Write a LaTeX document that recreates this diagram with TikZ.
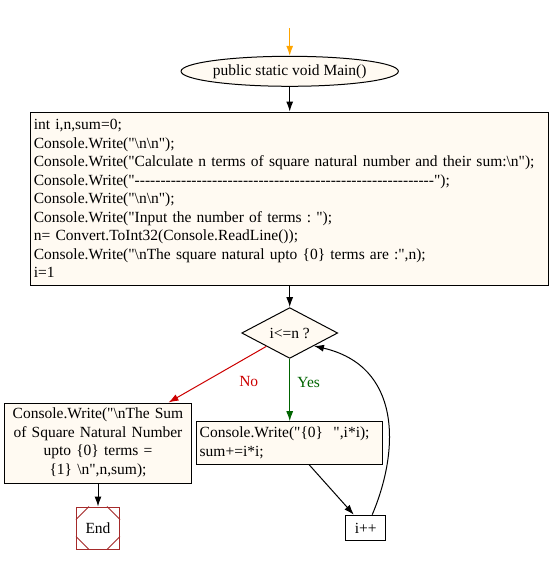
\documentclass[tikz,border=0pt]{standalone}
\usepackage{fontspec}
\setmainfont{Liberation Serif}[Ligatures=TeXOff]
\usetikzlibrary{shapes,arrows.meta}
\definecolor{paper}{RGB}{255,250,242}
\definecolor{noRed}{RGB}{204,0,0}
\definecolor{yesGreen}{RGB}{0,100,0}
\definecolor{startOrange}{RGB}{255,165,0}
\definecolor{endBrown}{RGB}{165,42,42}
\tikzstyle{terminal} = [draw, fill=paper, ellipse, inner sep=0pt,
    minimum width=177pt, minimum height=30pt]
\tikzstyle{block} = [draw, fill=paper, rectangle, inner xsep=3pt, inner ysep=0pt]
\tikzstyle{decision} = [draw, fill=paper, diamond, inner sep=0pt,
    minimum width=96pt, minimum height=47pt]
\tikzstyle{stopbox} = [draw=endBrown, fill=white, rectangle,
    minimum width=43pt, minimum height=42pt]
\tikzstyle{input} = [coordinate]
\newcommand{\bs}{\textbackslash}
\newcommand{\dashrow}[1]{\foreach \k in {1,...,#1}{-\kern0pt}}

\begin{document}
\begin{tikzpicture}[x=1pt, y=1pt, line width=1pt,
    >={Latex[length=10pt,width=7pt]},
    font=\fontsize{15.5pt}{18.5pt}\selectfont\frenchspacing]
  \useasboundingbox (0,0) rectangle (550,-564);
  % header and declarations
  \node [input] at (289.7,-28) (entry) {};
  \node [terminal] at (289.7,-71.3) (main) {public static void Main()};
  \node [block, below of=main, node distance=127.5pt, text width=511.7pt,
      minimum height=173.5pt, align=left] (init) {int i,n,sum=0;\\
    Console.Write("\bs n\bs n");\\
    Console.Write("Calculate n terms of square natural number and their sum:\bs n");\\
    Console.Write("\dashrow{58}");\\
    Console.Write("\bs n\bs n");\\
    Console.Write("Input the number of terms : ");\\
    n= Convert.ToInt32(Console.ReadLine());\\
    Console.Write("\bs nThe square natural upto \{0\} terms are :",n);\\
    i=1};
  % loop test and its two branches
  \node [decision, below of=init, node distance=134.2pt] (cond) {i<=n ?};
  \node [block, below of=cond, node distance=110pt, text width=180pt,
      minimum height=42.6pt, align=left] (body) {Console.Write("\{0\}\ \ ",i*i);\\
    sum+=i*i;};
  \node [block, left of=body, node distance=191.7pt, text width=181.4pt,
      minimum height=80pt, align=center] (result) {Console.Write("\bs nThe Sum\\
    of Square Natural Number\\ upto \{0\} terms =\\ \{1\} \bs n",n,sum);};
  \node [stopbox, below of=result, node distance=85pt] (end) {End};
  \node [block, fill=white, right of=end, node distance=267.7pt,
      minimum width=40.4pt, minimum height=25.6pt] (inc) {i++};
  % cut corners of the end box
  \foreach \c/\dx/\dy in {north west/13/-13, north east/-13/-13,
      south west/13/13, south east/-13/13}
    \draw [endBrown] ([xshift=\dx pt]end.\c) -- ([yshift=\dy pt]end.\c);

  % connectors
  \draw [->, startOrange] (entry) -- (main);
  \draw [->] (main) -- (init);
  \draw [->] (init) -- (cond);
  \draw [->, noRed] (cond) -- node[pos=0.2, xshift=2pt, yshift=-24pt] {No} (result);
  \draw [->, yesGreen] (cond) -- node[pos=0.38, xshift=19pt] {Yes} (body);
  \draw [->] (body) -- (inc);
  \draw [->] ([xshift=6.5pt]inc.north) .. controls +(28,66) and +(87,-20) .. (cond.south east);
  \draw [->] (result) -- (end);
\end{tikzpicture}
\end{document}
